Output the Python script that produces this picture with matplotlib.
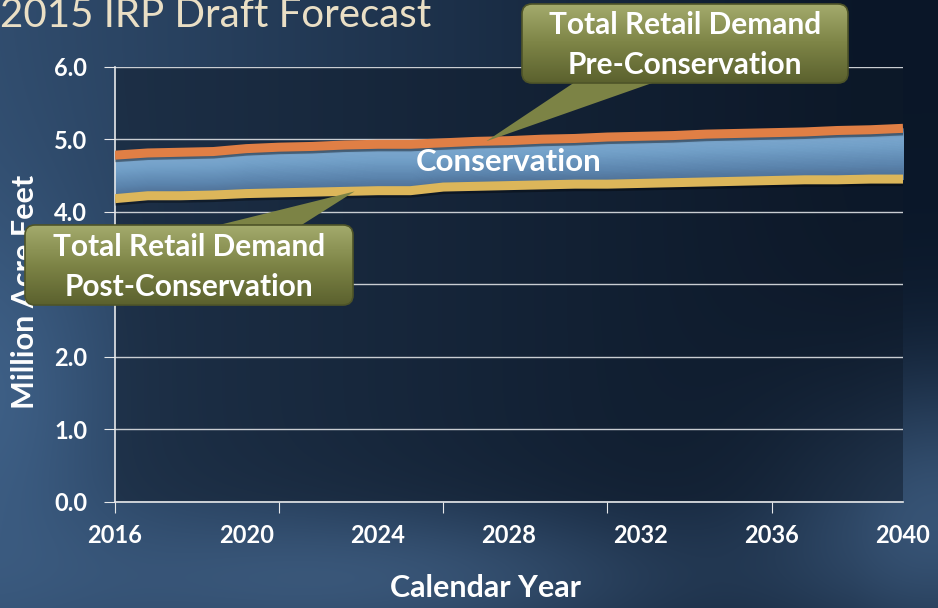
import numpy as np
import matplotlib
matplotlib.use('Agg')
import matplotlib.pyplot as plt
from matplotlib.patches import FancyBboxPatch, Polygon
from matplotlib.colors import LinearSegmentedColormap

# forecast, million acre-feet
years = np.arange(2016, 2041)
pre_conservation = [4.78, 4.81, 4.82, 4.83, 4.87, 4.89, 4.90, 4.92, 4.93, 4.93,
                    4.95, 4.97, 4.98, 5.00, 5.01, 5.03, 5.04, 5.05, 5.07, 5.08,
                    5.09, 5.10, 5.12, 5.13, 5.15]
post_conservation = [4.18, 4.22, 4.22, 4.23, 4.25, 4.26, 4.27, 4.28, 4.29, 4.29,
                     4.34, 4.35, 4.36, 4.37, 4.38, 4.38, 4.39, 4.40, 4.41, 4.42,
                     4.43, 4.44, 4.44, 4.45, 4.45]
label_years = [2016, 2020, 2024, 2028, 2032, 2036, 2040]
tick_years = [2016, 2021, 2026, 2031, 2036]
y_ticks = [0, 1, 2, 3, 4, 5, 6]

FONT = ['Lato', 'DejaVu Sans']
plt.rcParams['font.family'] = FONT

W, H = 938, 608
fig = plt.figure(figsize=(W / 100, H / 100), dpi=100)

# slide backdrop
bg = fig.add_axes([0, 0, 1, 1], zorder=-10)
yy, xx = np.mgrid[0:H, 0:W]
u = xx / W
v = yy / H
left = np.array([0.19, 0.30, 0.43])
right = np.array([0.04, 0.09, 0.16])
t = np.clip(u * 1.1, 0, 1)[..., None]
img = left * (1 - t) + right * t
glow1 = np.exp(-(((u - 0.45) / 0.35) ** 2 + ((v - 0.95) / 0.12) ** 2))[..., None]
glow2 = np.exp(-(((u - 1.0) / 0.18) ** 2 + ((v - 0.85) / 0.25) ** 2))[..., None]
glow3 = np.exp(-(((u - 0.0) / 0.12) ** 2 + ((v - 0.65) / 0.3) ** 2))[..., None]
img = img + glow1 * np.array([0.10, 0.13, 0.16]) + glow2 * np.array([0.17, 0.23, 0.29]) \
    + glow3 * np.array([0.05, 0.07, 0.09])
bg.imshow(np.clip(img, 0, 1), aspect='auto', extent=(0, W, H, 0))
bg.set_axis_off()

ax = fig.add_axes([115 / W, (H - 501.7) / H, 788 / W, 435 / H])
ax.set_facecolor((0.06, 0.10, 0.16, 0.5))
ax.set_xlim(2016, 2040)
ax.set_ylim(0, 6)

pre = np.array(pre_conservation)
post = np.array(post_conservation)

# conservation band, shaded like a tube
band = LinearSegmentedColormap.from_list('band', [
    (0.0, '#4b6a8e'), (0.3, '#5b84ad'), (0.7, '#73a1c9'),
    (0.85, '#79a5cc'), (0.95, '#5b7da0'), (1.0, '#3f5875')])
steps = np.linspace(0, 1, 41)
for a, b in zip(steps[:-1], steps[1:]):
    c = band((a + b) / 2)
    ax.fill_between(years, post + (pre - post) * a, post + (pre - post) * b,
                    facecolor=c, edgecolor=c, lw=0.8, zorder=2)

for series, col in [(pre, '#e07f45'), (post, '#dcb65a')]:
    ax.plot(years, series - 0.035, color='black', alpha=0.35, lw=6.5,
            solid_capstyle='butt', zorder=3)
    ax.plot(years, series, color=col, lw=6.5, solid_capstyle='butt', zorder=4)

ax.text(2028, 4.68, 'Conservation', color='white', fontsize=22.5, fontweight='bold',
        ha='center', va='center', zorder=5)

ax.set_yticks(y_ticks)
ax.set_yticklabels([f'{y:.1f}' for y in y_ticks])
ax.yaxis.grid(True, color='#c9cdd2', lw=1)
ax.set_axisbelow(True)

# labels every 4 years, tick marks every 5
ax.xaxis.remove_overlapping_locs = False
ax.set_xticks(tick_years)
ax.set_xticklabels([])
ax.set_xticks(label_years, minor=True)
ax.set_xticklabels([str(y) for y in label_years], minor=True)

for s in ['top', 'right']:
    ax.spines[s].set_visible(False)
for s in ['left', 'bottom']:
    ax.spines[s].set_color('#e6e8ea')
    ax.spines[s].set_linewidth(1.2)

ax.tick_params(axis='y', length=8, color='#e6e8ea', labelcolor='white',
               labelsize=17, pad=12)
ax.tick_params(axis='x', which='major', length=8, color='#e6e8ea')
ax.tick_params(axis='x', which='minor', length=0, labelcolor='white',
               labelsize=17, pad=16)
for lab in ax.get_yticklabels() + ax.get_xticklabels(minor=True):
    lab.set_fontweight('bold')

fig.text(0, 1 - 27 / H, '2015 IRP Draft Forecast', color='#eadfc5', fontsize=29,
         ha='left', va='baseline')
fig.text(485 / W, 1 - 588 / H, 'Calendar Year', color='white', fontsize=22,
         fontweight='bold', ha='center', va='center')
fig.text(25 / W, 1 - 292 / H, 'Million Acre Feet', color='white', fontsize=22,
         fontweight='bold', ha='center', va='center', rotation=90)

# callouts drawn in pixel space on top of everything
ov = fig.add_axes([0, 0, 1, 1], zorder=5)
ov.patch.set_alpha(0)
ov.set_axis_off()

callout_cmap = LinearSegmentedColormap.from_list('olive', ['#a3aa6c', '#7d8446', '#5b612e'])


def to_px(x, y):
    px, py = ax.transData.transform((x, y))
    return px, H - py


def callout(box, base, tip, lines):
    x0, y0, x1, y1 = box
    tri = Polygon([base[0], base[1], tip], closed=True, transform=ov.transData)
    rect = FancyBboxPatch((x0, y0), x1 - x0, y1 - y0,
                          boxstyle='round,pad=0,rounding_size=10',
                          transform=ov.transData)
    grad = np.linspace(0, 1, 100)[:, None]
    for shape, ext in [(tri, (min(base[0][0], tip[0]), max(base[1][0], tip[0]),
                              max(base[0][1], tip[1]), min(base[0][1], tip[1]))),
                       (rect, (x0, x1, y1, y0))]:
        shape.set_facecolor('none')
        shape.set_edgecolor('none')
        ov.add_patch(shape)
        if shape is tri:
            ov.imshow(np.full((2, 2), 0.5), cmap=callout_cmap, vmin=0, vmax=1,
                      extent=ext, aspect='auto', clip_path=shape, zorder=1)
        else:
            ov.imshow(grad, cmap=callout_cmap, vmin=0, vmax=1,
                      extent=ext, aspect='auto', clip_path=shape, zorder=2)
    rim = FancyBboxPatch((x0, y0), x1 - x0, y1 - y0,
                         boxstyle='round,pad=0,rounding_size=10',
                         facecolor='none', edgecolor='#4e5428', lw=1.2, zorder=3)
    ov.add_patch(rim)
    cx = (x0 + x1) / 2
    h = (y1 - y0)
    ov.text(cx, y0 + h * 0.27, lines[0], color='white', fontsize=21.5,
            fontweight='bold', ha='center', va='center', zorder=4)
    ov.text(cx, y0 + h * 0.77, lines[1], color='white', fontsize=21.5,
            fontweight='bold', ha='center', va='center', zorder=4)


tip_pre = to_px(2027.3, 4.97)
tip_post = to_px(2023.3, 4.28)
callout((522, 4, 848, 83), ((575, 82), (655, 82)), tip_pre,
        ('Total Retail Demand', 'Pre-Conservation'))
callout((25, 225, 353, 305), ((215, 226), (300, 226)), tip_post,
        ('Total Retail Demand', 'Post-Conservation'))

ov.set_xlim(0, W)
ov.set_ylim(H, 0)

fig.savefig('out.png', dpi=100)
